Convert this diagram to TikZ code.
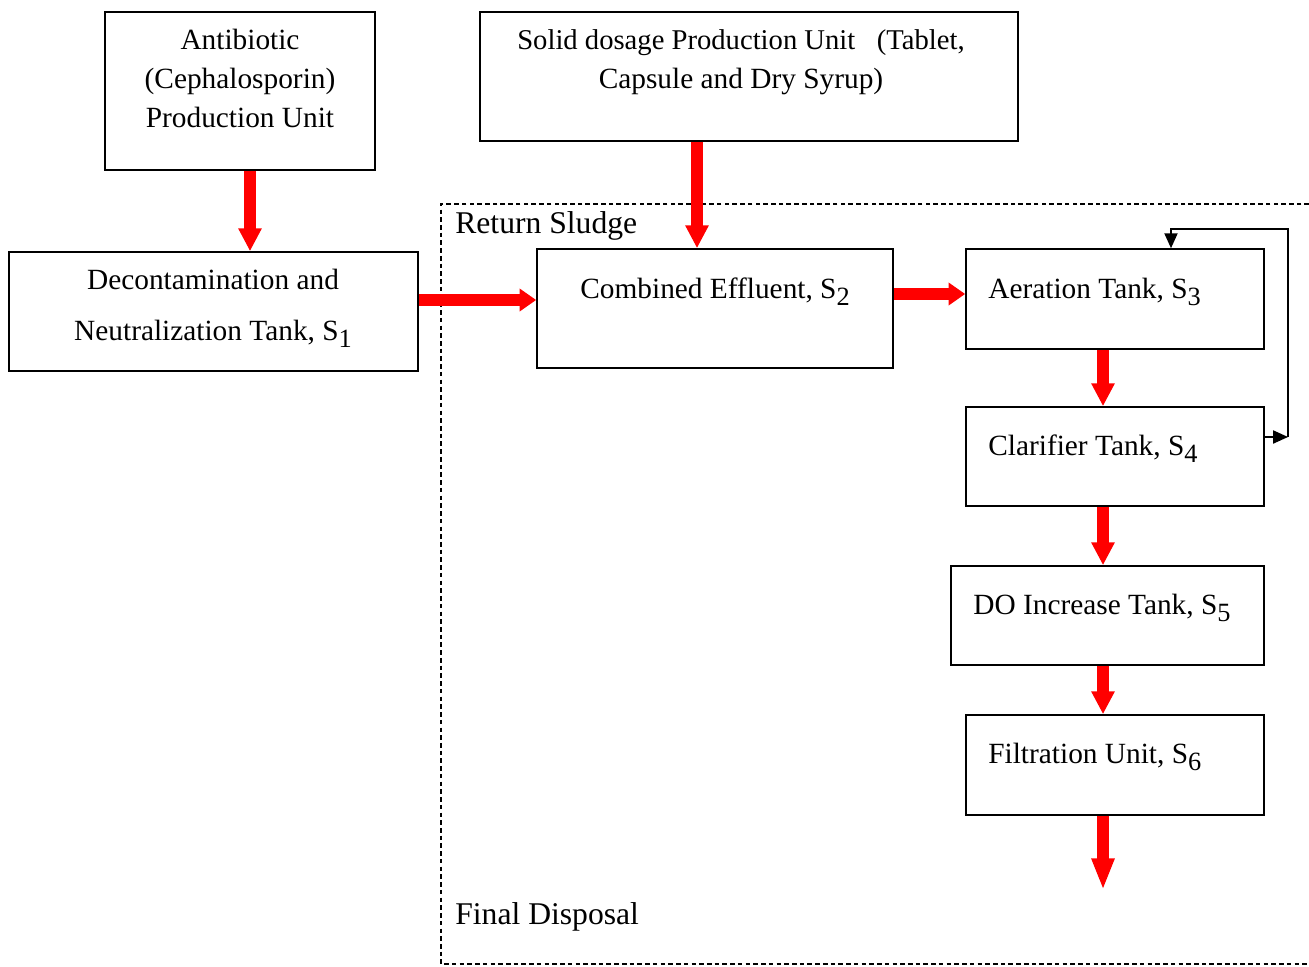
\documentclass[tikz,border=0pt]{standalone}
\usepackage{fontspec}
\setmainfont{Liberation Serif}
\usetikzlibrary{arrows.meta,fit}
% lowered subscript digit, Word style
\newcommand\lsub[1]{\raisebox{-0.26em}{\fontsize{15}{15}\selectfont #1}}
\tikzset{
  box/.style={draw, line width=0.9pt, inner sep=0pt},
  txt/.style={inner sep=0pt, font=\fontsize{16.7}{19}\selectfont},
  bigtxt/.style={inner sep=0pt, font=\fontsize{18}{21}\selectfont},
  flow/.style={draw=red, line width=6.3pt, -{Triangle[width=12.5pt,length=9.5pt]}},
  flowv/.style={draw=red, line width=6.3pt, -{Triangle[width=12.5pt,length=13pt]}},
  loopline/.style={draw, line width=0.85pt, -{Triangle[width=7.5pt,length=8.5pt]}},
  frame/.style={draw, line width=1.4pt, dash pattern=on 2.6pt off 1.8pt},
}
\begin{document}
\begin{tikzpicture}[x=0.02cm, y=-0.02cm]
\useasboundingbox (0,0) rectangle (1309,967);

% dotted enclosure of the treatment plant (open on the right)
\draw[frame] (1309,204) -- (441,204) -- (441,964) -- (1309,964);
\node[bigtxt, anchor=base west] (ret) at (455,233) {Return Sludge};
\node[bigtxt, anchor=base west] (fin) at (455,924) {Final Disposal};

% boxes
\node[box, fit={(105,12) (375,170)}] (A) {};
\node[box, fit={(480,12) (1018,141)}] (B) {};
\node[box, fit={(9,252) (418,371)}] (C) {};
\node[box, fit={(537,249) (893,368)}] (D) {};
\node[box, fit={(966,249) (1264,349)}] (E) {};
\node[box, fit={(966,407) (1264,506)}] (F) {};
\node[box, fit={(951,566) (1264,665)}] (G) {};
\node[box, fit={(966,715) (1264,815)}] (H) {};

% box texts
\node[txt, anchor=base] (a1) at (240,49) {Antibiotic};
\node[txt, anchor=base] (a2) at (240,88) {(Cephalosporin)};
\node[txt, anchor=base] (a3) at (240,127) {Production Unit};
\node[txt, anchor=base, font=\fontsize{16.3}{19}\selectfont] (b1) at (741,49) {Solid dosage Production Unit\hspace{0.75em}(Tablet,};
\node[txt, anchor=base] (b2) at (741,88) {Capsule and Dry Syrup)};
\node[txt, anchor=base] (c1) at (213,289) {Decontamination and};
\node[txt, anchor=base] (c2) at (213,340) {Neutralization Tank, S\lsub{1}};
\node[txt, anchor=base west] (d1) at (580,298) {Combined Effluent, S\lsub{2}};
\node[txt, anchor=base west] (e1) at (988,298) {Aeration Tank, S\lsub{3}};
\node[txt, anchor=base west] (f1) at (988,455) {Clarifier Tank, S\lsub{4}};
\node[txt, anchor=base west] (g1) at (973,614) {DO Increase Tank, S\lsub{5}};
\node[txt, anchor=base west] (h1) at (988,763) {Filtration Unit, S\lsub{6}};

% guide coordinates for the connectors
\coordinate (xac) at (250,0);
\coordinate (xbd) at (697,0);
\coordinate (ycd) at (0,300);
\coordinate (yde) at (0,294);
\coordinate (xmain) at (1103,0);
\coordinate (disp) at (1103,890);
\coordinate (rr) at (1288,437);
\coordinate (rt) at (1288,229);
\coordinate (rl) at (1171,229);

% main effluent flow
\draw[flowv] (A.south -| xac) -- (C.north -| xac);
\draw[flowv] (B.south -| xbd) -- (D.north -| xbd);
\draw[flow] (C.east |- ycd) -- (D.west |- ycd);
\draw[flow] (D.east |- yde) -- (E.west |- yde);
\draw[flowv] (E.south -| xmain) -- (F.north -| xmain);
\draw[flowv] (F.south -| xmain) -- (G.north -| xmain);
\draw[flowv] (G.south -| xmain) -- (H.north -| xmain);
\draw[flow, -{Triangle[width=12pt,length=18pt]}] (H.south -| xmain) -- (disp);

% sludge return loop
\draw[loopline] (F.east |- rr) -- (rr);
\draw[loopline] (rr) -- (rt) -- (rl) -- (E.north -| rl);
\end{tikzpicture}
\end{document}
